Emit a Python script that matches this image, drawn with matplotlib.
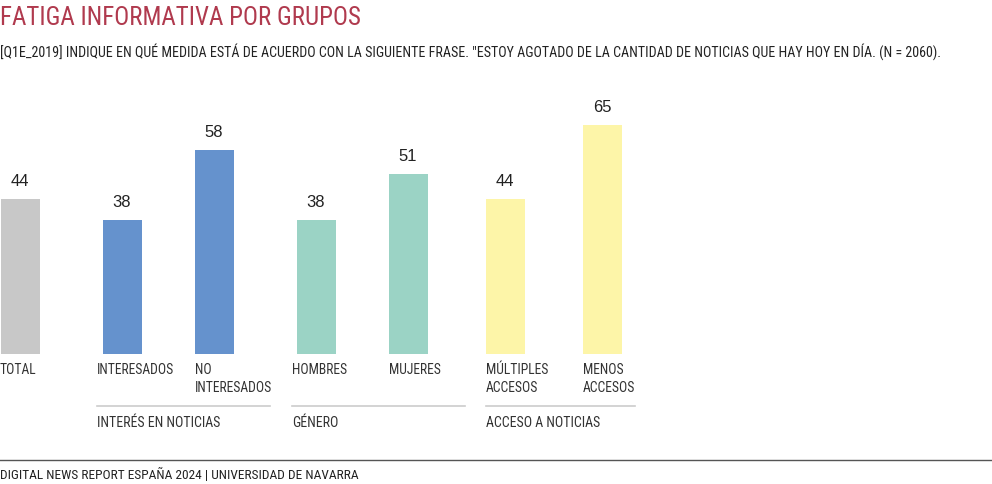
"""
Fatiga informativa por grupos (DNR España 2024)
Genera: out.png
"""

import matplotlib
matplotlib.use('Agg')
import matplotlib.pyplot as plt
from matplotlib.lines import Line2D
from matplotlib import font_manager as fm

# ── Datos ────────────────────────────────────────────────────────────────────

etiquetas = ['TOTAL', 'INTERESADOS', 'NO\nINTERESADOS', 'HOMBRES', 'MUJERES',
             'MÚLTIPLES\nACCESOS', 'MENOS\nACCESOS']
valores = [44, 38, 58, 38, 51, 44, 65]
grupos = ['INTERÉS EN NOTICIAS', 'GÉNERO', 'ACCESO A NOTICIAS']

TITULO = 'FATIGA INFORMATIVA POR GRUPOS'
SUBTITULO = ('[Q1E_2019] INDIQUE EN QUÉ MEDIDA ESTÁ DE ACUERDO CON LA SIGUIENTE FRASE. '
             '"ESTOY AGOTADO DE LA CANTIDAD DE NOTICIAS QUE HAY HOY EN DÍA. (N = 2060).')
FUENTE = 'DIGITAL NEWS REPORT ESPAÑA 2024 | UNIVERSIDAD DE NAVARRA'

# ── Fuente condensada (la primera que esté instalada) ────────────────────────

_instaladas = {f.name for f in fm.fontManager.ttflist}
_pref = ['Roboto Condensed', 'PT Sans Narrow', 'Fira Sans Condensed',
         'Archivo Narrow', 'Encode Sans Condensed', 'Asap Condensed',
         'Open Sans Condensed', 'Liberation Sans Narrow']
FONT = [n for n in _pref if n in _instaladas][:1] + ['DejaVu Sans']
FONT_NUM = ['Liberation Sans', 'DejaVu Sans']

# ── Estilo / maquetación (en píxeles de la figura) ───────────────────────────

W, H = 992, 485
C_TXT = '#333333'
C_TIT = '#b03a4e'
colores = ['#c8c8c8', '#6592cd', '#6592cd', '#9bd3c5', '#9bd3c5', '#fdf5a8', '#fdf5a8']

x_centros = [20, 122, 214, 316, 408, 505, 602]
x_etiq = [0, 97, 195, 292, 389, 486, 583]
ancho = 39
base_px = 355
px_por_unidad = 3.52
grupo_x = [(97, 270), (292, 465), (486, 635)]

def fy(y):
    return 1 - y / H

fig = plt.figure(figsize=(W / 100, H / 100), dpi=100)

ax_top = 55
ax = fig.add_axes([0, fy(base_px), 1, (base_px - ax_top) / H])
ax.set_xlim(0, W)
ax.set_ylim(0, (base_px - ax_top) / px_por_unidad)
ax.axis('off')

ax.bar(x_centros, valores, width=ancho, color=colores, zorder=2)
for x, v in zip(x_centros, valores):
    ax.annotate(str(v), (x, v), xytext=(0, 8), textcoords='offset points',
                ha='center', va='bottom', fontsize=12, color='#222222',
                family=FONT_NUM)

# etiquetas de categoría bajo las barras
for x, lab in zip(x_etiq, etiquetas):
    fig.text(x / W, fy(363), lab, ha='left', va='top',
             fontsize=9.8, color=C_TXT, family=FONT, linespacing=1.4)

# grupos
for (x0, x1), g in zip(grupo_x, grupos):
    fig.add_artist(Line2D([x0 / W, x1 / W], [fy(407), fy(407)],
                          color='#cccccc', lw=1.2))
    fig.text(x0 / W, fy(423), g, ha='left', va='center',
             fontsize=10, color=C_TXT, family=FONT)

# título y subtítulo
fig.text(0, fy(18), TITULO, ha='left', va='center', fontsize=18,
         color=C_TIT, family=FONT)
fig.text(0, fy(52), SUBTITULO, ha='left', va='center', fontsize=10.1,
         color='#222222', family=FONT)

# pie
fig.add_artist(Line2D([0, 1], [fy(461), fy(461)], color='#555555', lw=1.0))
fig.text(0, fy(475), FUENTE, ha='left', va='center', fontsize=9.6,
         color='#222222', family=FONT)

fig.savefig('out.png', dpi=100, facecolor='white')
